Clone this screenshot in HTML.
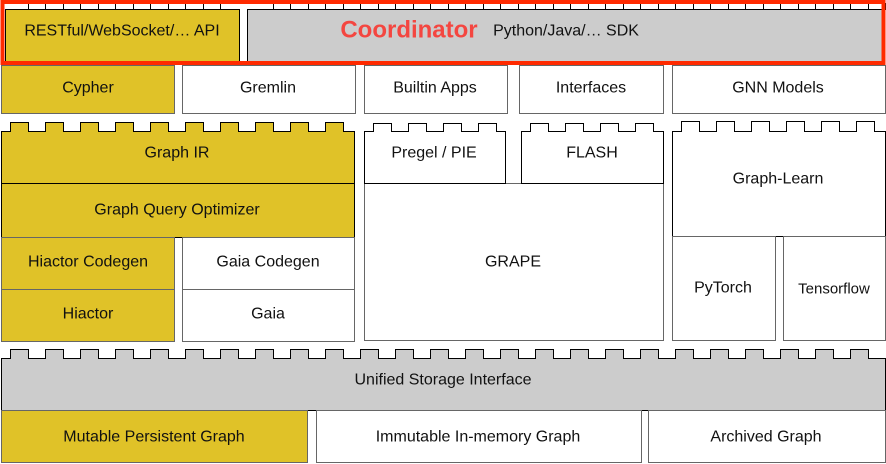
<!DOCTYPE html>
<html><head><meta charset="utf-8"><style>
html,body{margin:0;padding:0;background:#fff;}
svg{display:block;}
text{font-family:"Liberation Sans",Arial,sans-serif;font-size:16px;fill:#111;text-anchor:middle;dominant-baseline:central;}
</style></head><body>
<svg id="s" width="886" height="464" xmlns="http://www.w3.org/2000/svg"></svg>
<script>
const Y='#e0c228',G='#cccccc',W='#ffffff';
let out='';
function rect(x1,y1,x2,y2,f,st){out+=`<rect x="${x1+.5}" y="${y1+.5}" width="${x2-x1}" height="${y2-y1}" fill="${f}" stroke="${st||'#666'}" stroke-width="1"/>`;}
function lego(x1,yb,y1,y2,x2,f){
  let d=`M${x1+.5},${y1+.5}`;
  for(let bx=x1+9;bx+18<=x2-4;bx+=35){d+=` L${bx+.5},${y1+.5} L${bx+.5},${yb+.5} L${bx+18.5},${yb+.5} L${bx+18.5},${y1+.5}`;}
  d+=` L${x2+.5},${y1+.5} L${x2+.5},${y2+.5} L${x1+.5},${y2+.5} Z`;
  out+=`<path d="${d}" fill="${f}" stroke="#000" stroke-width="1"/>`;
}
function t(x,y,s,extra){out+=`<text x="${x}" y="${y}" ${extra||''}>${s}</text>`;}
// top row
for(let bx=28;bx<880;bx+=35){ if(bx>236&&bx<250)continue; out+=`<rect x="${bx+.5}" y="3.5" width="17" height="6" fill="#fff" stroke="#000"/>`;}
rect(5,9,239,61,Y,'#000');rect(247,9,882,61,G,'#000');
out+=`<rect x="2.5" y="2" width="881" height="61" fill="none" stroke="#ff2a00" stroke-width="4"/>`;
t(122,31,'RESTful/WebSocket/… API');
t(409,30,'Coordinator','style="font-size:24px;font-weight:bold;fill:#f44640"');
t(566,31,'Python/Java/… SDK');
// row2
rect(1,65,174,113,Y);t(88,88,'Cypher');
rect(182,65,355,113,W);t(268,88,'Gremlin');
rect(364,65,507,113,W);t(435,88,'Builtin Apps');
rect(519,65,663,113,W);t(591,88,'Interfaces');
rect(672,65,885,113,W);t(778,88,'GNN Models');
// left stack
lego(1,122,131,183,354,Y);t(177,153,'Graph IR');
rect(1,183,354,237,Y,'#000');t(177,210,'Graph Query Optimizer');
rect(1,237,174,289,Y);t(88,262,'Hiactor Codegen');
rect(1,289,174,341,Y);t(88,314,'Hiactor');
rect(182,237,354,289,W);t(268,262,'Gaia Codegen');
rect(182,289,354,341,W);t(268,314,'Gaia');
// middle
rect(364,183,663,340,W);t(513,262,'GRAPE');
lego(364,123,131,183,505,W);t(434,153,'Pregel / PIE');
lego(521,123,131,183,663,W);t(592,153,'FLASH');
// right
lego(672,121,131,236,885,W);t(778,179,'Graph-Learn');
rect(672,236,775,340,W);t(723,288,'PyTorch');
rect(783,236,885,340,W);t(834,289,'Tensorflow','style="font-size:15px"');
// storage
lego(1,349,358,410,885,G);t(443,380,'Unified Storage Interface');
rect(1,410,307,462,Y);t(154,437,'Mutable Persistent Graph');
rect(316,410,641,462,W);t(478,437,'Immutable In-memory Graph');
rect(648,410,885,462,W);t(766,437,'Archived Graph');
document.getElementById('s').innerHTML=out;
</script>
</body></html>
